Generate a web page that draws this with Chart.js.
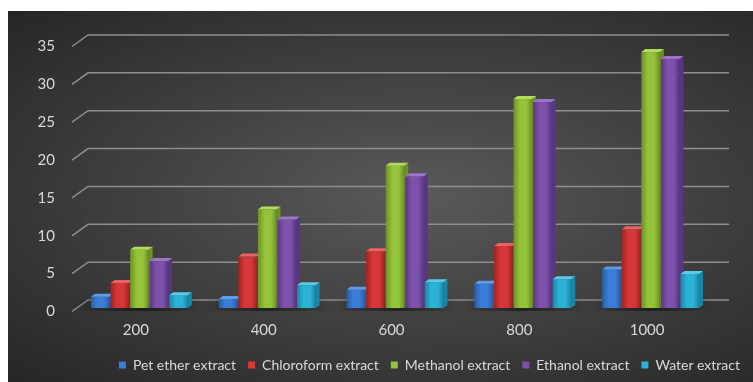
<!DOCTYPE html>
<html>
<head>
<meta charset="utf-8">
<script src="https://cdn.jsdelivr.net/npm/chart.js@4.4.1/dist/chart.umd.min.js"></script>
<style>
    html, body { margin: 0; padding: 0; background: #ffffff; }
    #wrap {
        position: absolute; left: 8px; top: 11px; width: 745px; height: 371px;
        background: radial-gradient(ellipse at 55% 50%, #5a5a5a 0%, #424242 45%, #262626 100%);
    }
</style>
</head>
<body>
<div id="wrap"><canvas id="extractChart" width="745" height="371"></canvas></div>
<script>
// Data
const categories = ['200', '400', '600', '800', '1000'];
const petEther = [1.5, 1.2, 2.4, 3.2, 5.1];
const chloroform = [3.3, 6.8, 7.5, 8.2, 10.4];
const methanol = [7.7, 13.0, 18.8, 27.6, 33.8];
const ethanol = [6.2, 11.7, 17.4, 27.2, 32.9];
const water = [1.7, 3.0, 3.4, 3.8, 4.5];
const seriesNames = ['Pet ether extract', 'Chloroform extract', 'Methanol extract', 'Ethanol extract', 'Water extract'];

// front / side / top shades for the fake 3D columns
const shades = [
    ['#3b7dd8', '#285da6', '#5f9ce8'],
    ['#d63838', '#a02222', '#e86262'],
    ['#95c33b', '#6c9124', '#b3dc5c'],
    ['#7c52aa', '#573880', '#9c74c9'],
    ['#2bb3d7', '#1a86a6', '#58cbe8']
];

const DX = 4, DY = 3, SHIFT = 4, BACK = 8;

// back wall grid lines with the little slanted floor stubs
const wallGrid = {
    id: 'wallGrid',
    beforeDatasetsDraw(chart) {
        const ctx = chart.ctx;
        const y = chart.scales.y;
        const area = chart.chartArea;
        ctx.save();
        ctx.strokeStyle = '#8e8e8e';
        ctx.lineWidth = 1.5;
        y.ticks.forEach(t => {
            const py = y.getPixelForValue(t.value);
            ctx.beginPath();
            ctx.moveTo(area.left, py + 3.5);
            ctx.lineTo(area.left + 16, py - BACK);
            ctx.lineTo(area.right + 18, py - BACK);
            ctx.stroke();
        });
        ctx.restore();
    }
};

// draws the columns with a top and side face, left to right
const columns3d = {
    id: 'columns3d',
    beforeDatasetsDraw(chart) {
        const ctx = chart.ctx;
        ctx.save();
        // floor shadow under each group
        const xs = chart.scales.x, ys = chart.scales.y;
        const base0 = ys.getPixelForValue(0);
        categories.forEach((c, i) => {
            const cx = xs.getPixelForValue(i) + SHIFT;
            const g = ctx.createRadialGradient(cx, base0 - 2, 5, cx, base0 - 2, 65);
            g.addColorStop(0, 'rgba(0,0,0,0.45)');
            g.addColorStop(1, 'rgba(0,0,0,0)');
            ctx.fillStyle = g;
            ctx.fillRect(cx - 65, base0 - 9, 130, 12);
        });
        chart.data.datasets.forEach((ds, di) => {
            const meta = chart.getDatasetMeta(di);
            const [front, side, top] = shades[di];
            meta.data.forEach(bar => {
                const p = bar.getProps(['x', 'y', 'base', 'width'], true);
                const l = p.x - p.width / 2 + SHIFT;
                const w = p.width - 1;
                const r = l + w;
                // side
                ctx.fillStyle = side;
                ctx.beginPath();
                ctx.moveTo(r, p.base);
                ctx.lineTo(r + DX, p.base - DY);
                ctx.lineTo(r + DX, p.y - DY);
                ctx.lineTo(r, p.y);
                ctx.closePath();
                ctx.fill();
                // front
                const g = ctx.createLinearGradient(l, 0, r, 0);
                g.addColorStop(0, side);
                g.addColorStop(0.35, front);
                g.addColorStop(0.7, front);
                g.addColorStop(1, side);
                ctx.fillStyle = g;
                ctx.fillRect(l, p.y, w, p.base - p.y);
                // top
                ctx.fillStyle = top;
                ctx.beginPath();
                ctx.moveTo(l, p.y);
                ctx.lineTo(l + DX, p.y - DY);
                ctx.lineTo(r + DX, p.y - DY);
                ctx.lineTo(r, p.y);
                ctx.closePath();
                ctx.fill();
            });
        });
        ctx.restore();
        return false;
    }
};

const allSeries = [petEther, chloroform, methanol, ethanol, water];

const ctx = document.getElementById('extractChart').getContext('2d');
new Chart(ctx, {
    type: 'bar',
    data: {
        labels: categories,
        datasets: allSeries.map((vals, i) => ({
            label: seriesNames[i],
            data: vals,
            backgroundColor: shades[i][0],
            borderWidth: 0,
            categoryPercentage: 0.765,
            barPercentage: 1.0
        }))
    },
    options: {
        responsive: false,
        animation: false,
        layout: { padding: { top: 32, left: 0, right: 1, bottom: 0 } },
        scales: {
            x: {
                grid: { display: false, drawTicks: false },
                border: { display: false },
                ticks: { color: '#d9d9d9', font: { family: 'Lato', size: 15 }, padding: 13 },
                afterFit(s) { s.height = 38; }
            },
            y: {
                min: 0,
                max: 35,
                grid: { display: false, drawTicks: false },
                border: { display: false },
                ticks: {
                    stepSize: 5,
                    color: '#d9d9d9',
                    font: { family: 'Lato', size: 15 },
                    padding: 17,
                    labelOffset: 3.5
                },
                afterFit(s) { s.width = 64; }
            },
            y2: {
                position: 'right',
                display: true,
                grid: { display: false, drawTicks: false },
                border: { display: false },
                ticks: { display: false },
                afterFit(s) { s.width = 41; }
            }
        },
        plugins: {
            legend: {
                position: 'bottom',
                align: 'end',
                labels: {
                    color: '#d9d9d9',
                    font: { family: 'Lato', size: 14 },
                    boxWidth: 7,
                    boxHeight: 7,
                    padding: 12
                }
            },
            tooltip: { enabled: false }
        }
    },
    plugins: [wallGrid, columns3d]
});
</script>
</body>
</html>
